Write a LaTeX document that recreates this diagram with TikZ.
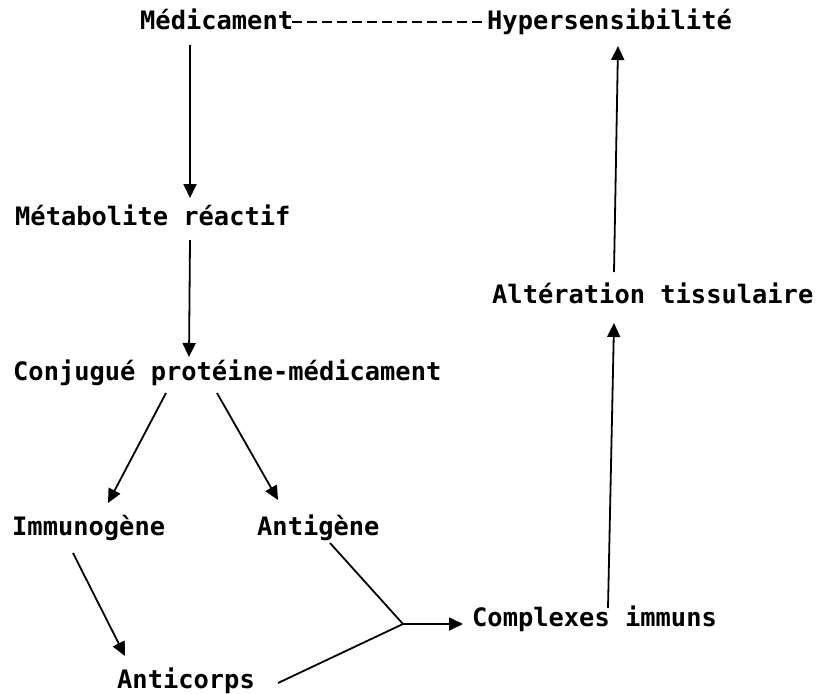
\documentclass[tikz,border=0pt]{standalone}
\usepackage{fontspec}
\setmonofont{DejaVu Sans Mono}
\usetikzlibrary{arrows.meta}

\begin{document}
\begin{tikzpicture}[x=1pt, y=-1pt,
    lbl/.style={font=\ttfamily\bfseries\fontsize{25.4}{30}\selectfont, inner sep=0pt, anchor=base west},
    arr/.style={line width=1.8pt, -{Triangle[length=14pt,width=13pt]}},
    lnk/.style={line width=1.8pt}]

    \useasboundingbox (0,0) rectangle (818,693);

    \node[lbl] (med) at (140, 30) {Médicament};
    \node[lbl] (hyp) at (487, 30) {Hypersensibilité};
    \node[lbl] (met) at (15, 225) {Métabolite réactif};
    \node[lbl] (alt) at (492, 303) {Altération tissulaire};
    \node[lbl] (conj) at (13, 380) {Conjugué protéine-médicament};
    \node[lbl] (imm) at (12, 535) {Immunogène};
    \node[lbl] (ant) at (257, 535) {Antigène};
    \node[lbl] (comp) at (472, 626) {Complexes immuns};
    \node[lbl] (acorps) at (117, 688) {Anticorps};
    \coordinate (jn) at (403, 624);

    \draw[line width=2.6pt, dash pattern=on 10pt off 5pt] ([shift={(152,-8)}]med.base west) -- ([shift={(0,-8)}]hyp.base west);

    \draw[arr] ([shift={(50,15)}]med.base west) -- ([shift={(175,-27)}]met.base west);
    \draw[arr] ([shift={(175,15)}]met.base west) -- ([shift={(176,-23)}]conj.base west);
    \draw[arr] ([shift={(153,13)}]conj.base west) -- ([shift={(96,-32)}]imm.base west);
    \draw[arr] ([shift={(204,13)}]conj.base west) -- ([shift={(21,-35)}]ant.base west);
    \draw[arr] ([shift={(61,18)}]imm.base west) -- ([shift={(8,-32)}]acorps.base west);

    \draw[lnk] ([shift={(73,8)}]ant.base west) -- (jn);
    \draw[lnk] ([shift={(161,-5)}]acorps.base west) -- (jn);
    \draw[arr] (jn) -- ([shift={(-9,-2)}]comp.base west);

    \draw[arr] ([shift={(136,-18)}]comp.base west) -- ([shift={(122,20)}]alt.base west);
    \draw[arr] ([shift={(122,-31)}]alt.base west) -- ([shift={(131,16)}]hyp.base west);

\end{tikzpicture}
\end{document}
